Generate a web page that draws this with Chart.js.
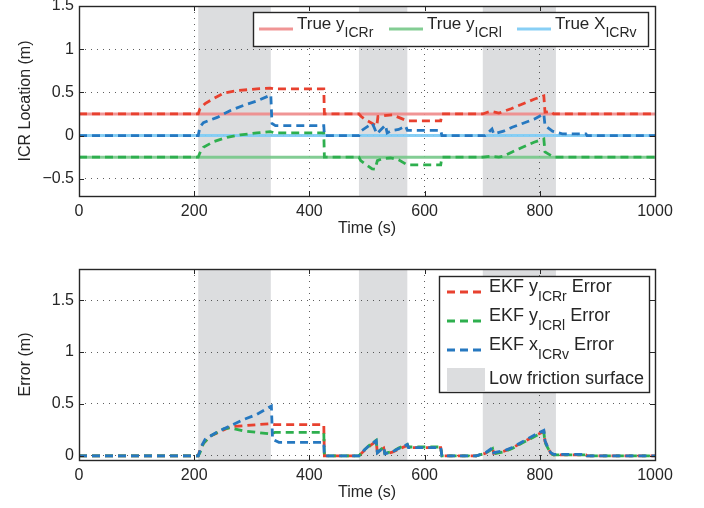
<!DOCTYPE html>
<html>
<head>
<meta charset="utf-8">
<script src="https://cdn.jsdelivr.net/npm/chart.js@4/dist/chart.umd.min.js"></script>
<style>
  html, body { margin: 0; padding: 0; background: #fff; }
  #wrap { position: relative; width: 704px; height: 508px; }
  canvas { position: absolute; left: 0; }
  #top { top: 0; }
  #bottom { top: 254px; }
</style>
</head>
<body>
<div id="wrap">
  <canvas id="top" width="704" height="254"></canvas>
  <canvas id="bottom" width="704" height="254"></canvas>
</div>
<script>
// ===== Data =====
const timeTicks = [0, 200, 400, 600, 800, 1000];
const topYTicks = [-0.5, 0, 0.5, 1, 1.5];
const bottomYTicks = [0, 0.5, 1, 1.5];

// low friction surface intervals (s)
const frictionStart = [207, 486, 701];
const frictionEnd = [333, 570, 828];

// true ICR values
const trueTime = [0, 1000];
const trueYr = [0.25, 0.25];
const trueYl = [-0.25, -0.25];
const trueXv = [0, 0];

// EKF estimates (top plot)
const yrTime = [0, 207, 210, 219, 234, 251, 274, 309, 332, 340, 425, 426, 486, 490, 497, 517, 519, 529, 544, 555, 570, 628, 630, 701, 709, 715, 729, 750, 770, 790, 807, 809, 819, 824, 1000];
const yrEst = [0.25, 0.25, 0.31, 0.37, 0.43, 0.49, 0.52, 0.54, 0.55, 0.54, 0.54, 0.25, 0.25, 0.22, 0.185, 0.11, 0.22, 0.23, 0.24, 0.21, 0.17, 0.17, 0.25, 0.25, 0.27, 0.28, 0.26, 0.31, 0.365, 0.42, 0.46, 0.27, 0.28, 0.25, 0.25];

const ylTime = [0, 207, 210, 216, 234, 257, 280, 309, 332, 340, 425, 426, 486, 489, 497, 509, 514, 518, 526, 541, 555, 570, 628, 630, 701, 715, 729, 737, 752, 770, 790, 807, 809, 819, 824, 1000];
const ylEst = [-0.25, -0.25, -0.20, -0.135, -0.07, -0.02, 0.008, 0.03, 0.046, 0.03, 0.03, -0.25, -0.25, -0.29, -0.33, -0.385, -0.39, -0.29, -0.27, -0.26, -0.28, -0.34, -0.34, -0.25, -0.25, -0.24, -0.25, -0.24, -0.19, -0.135, -0.077, -0.04, -0.19, -0.23, -0.25, -0.25];

const xvTime = [0, 207, 210, 216, 240, 263, 286, 309, 333, 335, 341, 425, 426, 486, 491, 500, 509, 512, 517, 532, 535, 544, 555, 567, 570, 628, 630, 705, 717, 720, 737, 752, 770, 790, 807, 809, 822, 839, 880, 882, 1000];
const xvEst = [0, 0, 0.10, 0.15, 0.21, 0.29, 0.35, 0.40, 0.47, 0.14, 0.115, 0.115, 0, 0, 0.06, 0.10, 0.14, 0.10, 0.02, 0.12, 0.03, 0.06, 0.07, 0.11, 0.06, 0.06, 0, 0, 0.077, 0.02, 0.05, 0.096, 0.14, 0.19, 0.25, 0.115, 0.05, 0.02, 0.02, 0, 0];

// EKF errors (bottom plot)
const errYrTime = [0, 207, 210, 216, 228, 251, 263, 286, 309, 333, 340, 425, 426, 486, 494, 506, 516, 518, 529, 531, 544, 555, 570, 572, 628, 630, 690, 706, 718, 720, 738, 752, 770, 787, 807, 809, 819, 824, 880, 882, 1000];
const errYr = [0, 0, 0.06, 0.12, 0.19, 0.25, 0.28, 0.29, 0.30, 0.31, 0.30, 0.30, 0, 0, 0.045, 0.10, 0.14, 0.03, 0.075, 0.02, 0.035, 0.065, 0.10, 0.08, 0.08, 0, 0, 0.025, 0.075, 0.025, 0.045, 0.075, 0.13, 0.18, 0.235, 0.14, 0.025, 0.01, 0.01, 0, 0];

const errYlTime = [0, 207, 210, 216, 228, 251, 263, 286, 309, 333, 340, 425, 426, 486, 494, 506, 516, 518, 529, 531, 544, 555, 570, 572, 628, 630, 690, 706, 718, 720, 738, 752, 770, 787, 807, 809, 819, 824, 880, 882, 1000];
const errYl = [0, 0, 0.03, 0.12, 0.19, 0.26, 0.27, 0.24, 0.226, 0.21, 0.226, 0.226, 0, 0, 0.05, 0.11, 0.15, 0.035, 0.085, 0.025, 0.04, 0.075, 0.11, 0.085, 0.085, 0, 0, 0.025, 0.07, 0.02, 0.04, 0.07, 0.125, 0.175, 0.23, 0.13, 0.02, 0.01, 0.01, 0, 0];

const errXvTime = [0, 207, 213, 219, 240, 263, 286, 309, 334, 336, 347, 425, 426, 486, 494, 506, 516, 518, 529, 531, 544, 555, 570, 572, 628, 630, 690, 706, 718, 720, 738, 752, 770, 787, 807, 809, 814, 819, 824, 880, 882, 1000];
const errXv = [0, 0, 0.097, 0.16, 0.23, 0.29, 0.35, 0.40, 0.48, 0.16, 0.13, 0.13, 0, 0, 0.05, 0.11, 0.146, 0.03, 0.08, 0.02, 0.04, 0.07, 0.11, 0.08, 0.08, 0, 0, 0.03, 0.08, 0.03, 0.05, 0.08, 0.136, 0.19, 0.245, 0.146, 0.08, 0.03, 0.015, 0.015, 0, 0];

// ===== Style =====
const FONT = "'Liberation Sans', Arial, sans-serif";
const INK = '#262626';
const RED = '#e8412f';
const GREEN = '#2eaf4e';
const BLUE = '#2678c0';
const RED_T = 'rgba(238,138,138,0.9)';
const GREEN_T = 'rgba(118,200,136,0.9)';
const BLUE_T = 'rgba(130,204,244,0.95)';
const SHADE = '#dcdddf';
const DASH = [8, 5];
const GRID = 'rgba(40,40,40,0.75)';
const DOTS = [1, 5];

Chart.defaults.font.family = FONT;
Chart.defaults.font.size = 16;
Chart.defaults.color = INK;

const pts = (xs, ys) => xs.map((x, i) => ({ x, y: ys[i] }));

function line(label, xs, ys, color, dashed, order, width) {
  return {
    label,
    data: pts(xs, ys),
    borderColor: color,
    borderWidth: width,
    borderDash: dashed ? DASH : [],
    pointRadius: 0,
    tension: 0,
    fill: false,
    order,
  };
}

// ===== Plugins =====
const frictionShade = {
  id: 'frictionShade',
  beforeDraw(chart) {
    const { ctx, chartArea: a, scales: { x } } = chart;
    ctx.save();
    ctx.fillStyle = SHADE;
    frictionStart.forEach((s, i) => {
      const x1 = x.getPixelForValue(s);
      const x2 = x.getPixelForValue(frictionEnd[i]);
      ctx.fillRect(x1, a.top, x2 - x1, a.bottom - a.top);
    });
    ctx.restore();
  },
};

// MATLAB style box with inward ticks
const boxTicks = {
  id: 'boxTicks',
  afterDatasetsDraw(chart) {
    const { ctx, chartArea: a, scales: { x, y } } = chart;
    ctx.save();
    ctx.strokeStyle = INK;
    ctx.lineWidth = 1;
    ctx.beginPath();
    x.ticks.forEach((t) => {
      const px = Math.round(x.getPixelForValue(t.value)) + 0.5;
      ctx.moveTo(px, a.bottom); ctx.lineTo(px, a.bottom - 5);
      ctx.moveTo(px, a.top); ctx.lineTo(px, a.top + 5);
    });
    y.ticks.forEach((t) => {
      const py = Math.round(y.getPixelForValue(t.value)) + 0.5;
      ctx.moveTo(a.left, py); ctx.lineTo(a.left + 5, py);
      ctx.moveTo(a.right, py); ctx.lineTo(a.right - 5, py);
    });
    ctx.stroke();
    ctx.lineWidth = 1.4;
    ctx.strokeRect(Math.round(a.left) + 0.5, Math.round(a.top) + 0.5, Math.round(a.right - a.left), Math.round(a.bottom - a.top));
    ctx.restore();
  },
};

// text with a subscript part
function richText(ctx, x, y, main, sub, tail, size, subSize) {
  ctx.font = `${size}px ${FONT}`;
  ctx.fillText(main, x, y);
  x += ctx.measureText(main).width;
  if (sub) {
    ctx.font = `${subSize}px ${FONT}`;
    ctx.fillText(sub, x, y + size * 0.55);
    x += ctx.measureText(sub).width;
  }
  if (tail) {
    ctx.font = `${size}px ${FONT}`;
    ctx.fillText(tail, x, y);
  }
}

const matLegend = {
  id: 'matLegend',
  afterDraw(chart, args, opts) {
    const { ctx } = chart;
    const b = opts.box;
    ctx.save();
    ctx.fillStyle = '#fff';
    ctx.fillRect(b[0], b[1], b[2], b[3]);
    ctx.strokeStyle = INK;
    ctx.lineWidth = 1.4;
    ctx.strokeRect(b[0] + 0.5, b[1] + 0.5, b[2], b[3]);
    ctx.textBaseline = 'middle';
    opts.items.forEach((it) => {
      if (it.patch) {
        ctx.fillStyle = SHADE;
        ctx.fillRect(it.x1, it.y - 11, it.x2 - it.x1, 23);
      } else {
        ctx.strokeStyle = it.color;
        ctx.lineWidth = it.width;
        ctx.setLineDash(it.dashed ? DASH : []);
        ctx.beginPath();
        ctx.moveTo(it.x1, it.y);
        ctx.lineTo(it.x2, it.y);
        ctx.stroke();
        ctx.setLineDash([]);
      }
      ctx.fillStyle = INK;
      const dy = it.sub ? opts.lift : 0;
      richText(ctx, it.tx, it.y - dy, it.main, it.sub || '', it.tail || '', opts.size, opts.subSize);
    });
    ctx.restore();
  },
};

function scalesFor(yMin, yMax, yTicks, yTitle) {
  const fixPad = (s) => { s.paddingTop = 0; s.paddingBottom = 0; s.paddingLeft = 0; s.paddingRight = 0; };
  return {
    x: {
      type: 'linear',
      min: 0, max: 1000,
      afterBuildTicks: (s) => { s.ticks = timeTicks.map((v) => ({ value: v })); },
      afterFit: (s) => { s.height = 42; fixPad(s); },
      ticks: { padding: 6, maxRotation: 0, color: INK, font: { size: 16 }, callback: (v) => String(v) },
      grid: { color: GRID, lineWidth: 1, drawTicks: false },
      border: { display: false, dash: DOTS },
      title: { display: true, text: 'Time (s)', color: INK, font: { size: 16 }, padding: { top: 0, bottom: 0 } },
    },
    y: {
      type: 'linear',
      min: yMin, max: yMax,
      afterBuildTicks: (s) => { s.ticks = yTicks.map((v) => ({ value: v })); },
      afterFit: (s) => { s.width = 79; fixPad(s); },
      ticks: {
        padding: 5, color: INK, font: { size: 16 },
        callback: (v) => String(v).replace('-', '\u2212'),
      },
      grid: { color: GRID, lineWidth: 1, drawTicks: false },
      border: { display: false, dash: DOTS },
      title: { display: true, text: yTitle, color: INK, font: { size: 16 }, padding: { top: 16, bottom: 0 } },
    },
  };
}

// ===== Top chart =====
new Chart(document.getElementById('top'), {
  type: 'line',
  data: {
    datasets: [
      line('True yICRr', trueTime, trueYr, RED_T, false, 5, 3),
      line('True yICRl', trueTime, trueYl, GREEN_T, false, 5, 3),
      line('True XICRv', trueTime, trueXv, BLUE_T, false, 5, 3),
      line('EKF yICRr', yrTime, yrEst, RED, true, 3, 2.8),
      line('EKF yICRl', ylTime, ylEst, GREEN, true, 2, 2.8),
      line('EKF xICRv', xvTime, xvEst, BLUE, true, 1, 2.8),
    ],
  },
  options: {
    responsive: false,
    animation: false,
    layout: { padding: { left: 0, right: 49, top: 6, bottom: 16 } },
    scales: scalesFor(-0.7, 1.5, topYTicks, 'ICR Location (m)'),
    plugins: {
      legend: { display: false },
      tooltip: { enabled: false },
      matLegend: {
        size: 17, subSize: 14, lift: 5,
        box: [253, 12, 395, 34],
        items: [
          { color: RED_T, width: 3, x1: 259, x2: 293, tx: 297, y: 29, main: 'True y', sub: 'ICRr' },
          { color: GREEN_T, width: 3, x1: 389, x2: 423, tx: 427, y: 29, main: 'True y', sub: 'ICRl' },
          { color: BLUE_T, width: 3, x1: 517, x2: 551, tx: 555, y: 29, main: 'True X', sub: 'ICRv' },
        ],
      },
    },
  },
  plugins: [frictionShade, boxTicks, matLegend],
});

// ===== Bottom chart =====
new Chart(document.getElementById('bottom'), {
  type: 'line',
  data: {
    datasets: [
      line('EKF yICRr Error', errYrTime, errYr, RED, true, 3, 2.8),
      line('EKF yICRl Error', errYlTime, errYl, GREEN, true, 2, 2.8),
      line('EKF xICRv Error', errXvTime, errXv, BLUE, true, 1, 2.8),
    ],
  },
  options: {
    responsive: false,
    animation: false,
    layout: { padding: { left: 0, right: 49, top: 15, bottom: 6 } },
    scales: scalesFor(-0.04, 1.8, bottomYTicks, 'Error (m)'),
    plugins: {
      legend: { display: false },
      tooltip: { enabled: false },
      matLegend: {
        size: 18, subSize: 14, lift: 5,
        box: [439, 22, 210, 116],
        items: [
          { color: RED, width: 2.8, dashed: true, x1: 447, x2: 485, tx: 489, y: 38, main: 'EKF y', sub: 'ICRr', tail: ' Error' },
          { color: GREEN, width: 2.8, dashed: true, x1: 447, x2: 485, tx: 489, y: 67, main: 'EKF y', sub: 'ICRl', tail: ' Error' },
          { color: BLUE, width: 2.8, dashed: true, x1: 447, x2: 485, tx: 489, y: 96, main: 'EKF x', sub: 'ICRv', tail: ' Error' },
          { patch: true, x1: 447, x2: 485, tx: 489, y: 125, main: 'Low friction surface' },
        ],
      },
    },
  },
  plugins: [frictionShade, boxTicks, matLegend],
});
</script>
</body>
</html>
